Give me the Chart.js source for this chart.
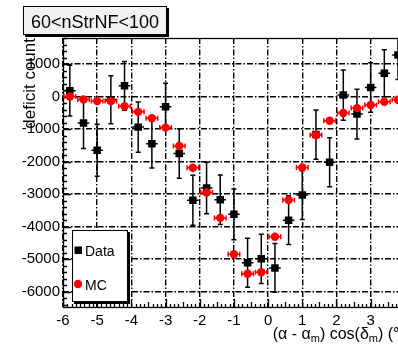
<!DOCTYPE html>
<html>
<head>
<meta charset="utf-8">
<script src="https://cdn.jsdelivr.net/npm/chart.js@4.4.0/dist/chart.umd.min.js"></script>
<style>
  html, body { margin: 0; padding: 0; background: #fff; overflow: hidden; }
  #wrap { width: 398px; height: 344px; overflow: hidden; }
  canvas { display: block; }
</style>
</head>
<body>
<div id="wrap"><canvas id="deficitChart" width="414" height="344"></canvas></div>
<script>
// Deficit vs. (alpha - alpha_m) cos(delta_m), data against MC

const binCenters = [-5.8, -5.4, -5.0, -4.6, -4.2, -3.8, -3.4, -3.0, -2.6, -2.2, -1.8, -1.4, -1.0,
                    -0.6, -0.2, 0.2, 0.6, 1.0, 1.4, 1.8, 2.2, 2.6, 3.0, 3.4, 3.8];
const dataCounts = [180, -810, -1650, -100, 330, -940, -1450, -310, -1750, -3190, -2810, -3170, -3620,
                    -5110, -4990, -5270, -3800, -3030, -1170, -2020, 45, -540, 280, 715, 1275];
const dataErrors = [780, 790, 800, 740, 750, 770, 750, 720, 760, 770, 790, 760, 780,
                    750, 760, 750, 750, 750, 760, 750, 770, 765, 760, 720, 750];
const mcCounts = [0, -90, -140, -140, -300, -470, -665, -955, -1520, -2190, -2950, -3730, -4850,
                  -5450, -5400, -4310, -3180, -2180, -1185, -745, -505, -355, -260, -160, -100];
const mcErrors = [110, 110, 110, 110, 110, 110, 110, 110, 110, 110, 120, 120, 120,
                  120, 120, 120, 120, 120, 110, 110, 110, 110, 110, 110, 110];
const binHalfWidth = 0.17;

const xTickValues = [-6, -5, -4, -3, -2, -1, 0, 1, 2, 3, 4];
const yTickValues = [-6000, -5000, -4000, -3000, -2000, -1000, 0, 1000];
const panelTitle = '60<nStrNF<100';

const FONT = "'Liberation Sans', Arial, sans-serif";
Chart.defaults.font.family = FONT;
Chart.defaults.color = '#000';

const toPoints = (ys) => binCenters.map((x, i) => ({ x: x, y: ys[i] }));

// ROOT-like decorations: frame, inward ticks, error bars, title box, legend
const rootStyle = {
    id: 'rootStyle',
    beforeDatasetsDraw(chart) {
        const { ctx, chartArea: a, scales: { x, y } } = chart;
        ctx.save();
        ctx.strokeStyle = '#000';
        ctx.lineWidth = 1.3;
        ctx.strokeRect(a.left + 0.5, a.top + 0.5, a.right - a.left, a.bottom - a.top);

        ctx.beginPath();
        // y axis: majors every 1000, minors every 200
        for (let v = -6400; v <= 1800; v += 200) {
            const py = Math.round(y.getPixelForValue(v)) + 0.5;
            if (py < a.top || py > a.bottom) continue;
            const len = v % 1000 === 0 ? 8 : 4;
            ctx.moveTo(a.left, py);
            ctx.lineTo(a.left + len, py);
        }
        // x axis: majors every 1, half-steps, minors every 0.125
        for (let k = -48; k <= 32; k++) {
            const v = k / 8;
            const px = Math.round(x.getPixelForValue(v)) + 0.5;
            if (px < a.left || px > a.right) continue;
            const len = k % 8 === 0 ? 8 : (k % 4 === 0 ? 5 : 3);
            ctx.moveTo(px, a.bottom);
            ctx.lineTo(px, a.bottom - len);
        }
        ctx.stroke();
        ctx.restore();
    },
    beforeDatasetDraw(chart, args) {
        const ds = chart.data.datasets[args.index];
        const { ctx, chartArea: a, scales: { x, y } } = chart;
        ctx.save();
        ctx.beginPath();
        ctx.rect(a.left, a.top, a.right - a.left, a.bottom - a.top);
        ctx.clip();
        ctx.strokeStyle = ds.borderColor;
        ctx.lineWidth = 1.5;
        ctx.beginPath();
        ds.data.forEach((p, i) => {
            const e = ds.errors[i];
            const px = x.getPixelForValue(p.x);
            const py = y.getPixelForValue(p.y);
            const top = y.getPixelForValue(p.y + e);
            const bot = y.getPixelForValue(p.y - e);
            const l = x.getPixelForValue(p.x - binHalfWidth);
            const r = x.getPixelForValue(p.x + binHalfWidth);
            ctx.moveTo(px, top); ctx.lineTo(px, bot);
            ctx.moveTo(l, py); ctx.lineTo(r, py);
            if (ds.capY) {
                ctx.moveTo(px - 2.5, top); ctx.lineTo(px + 2.5, top);
                ctx.moveTo(px - 2.5, bot); ctx.lineTo(px + 2.5, bot);
            } else {
                ctx.moveTo(l, py - 2.5); ctx.lineTo(l, py + 2.5);
                ctx.moveTo(r, py - 2.5); ctx.lineTo(r, py + 2.5);
            }
        });
        ctx.stroke();
        ctx.restore();
    },
    afterDraw(chart) {
        const { ctx, chartArea: a } = chart;
        ctx.save();

        // pave with the selection cut
        ctx.fillStyle = '#000';
        ctx.fillRect(25, 8, 144, 29);
        ctx.fillStyle = '#f2f2f2';
        ctx.fillRect(23, 6, 144, 29);
        ctx.strokeStyle = '#000';
        ctx.lineWidth = 1;
        ctx.strokeRect(23.5, 6.5, 143, 28);
        ctx.fillStyle = '#000';
        ctx.font = '18px ' + FONT;
        ctx.textAlign = 'center';
        ctx.textBaseline = 'alphabetic';
        ctx.fillText(panelTitle, 95, 27.5);

        // legend
        ctx.fillStyle = '#000';
        ctx.fillRect(74, 232, 56, 72);
        ctx.fillStyle = '#fff';
        ctx.fillRect(72, 230, 56, 72);
        ctx.strokeRect(72.5, 230.5, 55, 71);
        const items = chart.data.datasets;
        const rows = [250, 284];
        items.forEach((ds, i) => {
            const cy = rows[i];
            ctx.fillStyle = ds.backgroundColor;
            if (ds.pointStyle === 'rect') {
                ctx.fillRect(74.5, cy - 3.5, 7.5, 7.5);
            } else {
                ctx.beginPath();
                ctx.arc(78, cy, 4.2, 0, Math.PI * 2);
                ctx.fill();
            }
            ctx.fillStyle = '#000';
            ctx.font = '14px ' + FONT;
            ctx.textAlign = 'left';
            ctx.fillText(ds.label, 85, cy + 6);
        });

        // y axis title
        ctx.save();
        ctx.translate(35, a.top);
        ctx.rotate(-Math.PI / 2);
        ctx.font = '17px ' + FONT;
        ctx.textAlign = 'right';
        ctx.fillText('deficit count', 0, 0);
        ctx.restore();

        // x axis title, right-aligned to the axis end, with subscripts
        const parts = [['(\u03b1 - \u03b1', 0], ['m', 1], [') cos(\u03b4', 0], ['m', 1], [') (\u00b0)', 0]];
        const fontFor = (sub) => (sub ? '11px ' : '16px ') + FONT;
        let total = 0;
        parts.forEach(([t, sub]) => { ctx.font = fontFor(sub); total += ctx.measureText(t).width; });
        let cx = a.right - total;
        ctx.textAlign = 'left';
        parts.forEach(([t, sub]) => {
            ctx.font = fontFor(sub);
            ctx.fillText(t, cx, sub ? 342 : 339);
            cx += ctx.measureText(t).width;
        });
        ctx.restore();
    }
};

const ctx = document.getElementById('deficitChart').getContext('2d');
new Chart(ctx, {
    type: 'scatter',
    data: {
        datasets: [
            {
                label: 'Data',
                data: toPoints(dataCounts),
                errors: dataErrors,
                capY: true,
                pointStyle: 'rect',
                pointRadius: 5.3,
                pointHoverRadius: 5.3,
                backgroundColor: '#000',
                borderColor: '#000',
                borderWidth: 0,
                order: 2
            },
            {
                label: 'MC',
                data: toPoints(mcCounts),
                errors: mcErrors,
                capY: false,
                pointStyle: 'circle',
                pointRadius: 4.2,
                pointHoverRadius: 4.2,
                backgroundColor: '#ff0000',
                borderColor: '#ff0000',
                borderWidth: 0,
                order: 1
            }
        ]
    },
    options: {
        responsive: false,
        devicePixelRatio: 1,
        animation: false,
        events: [],
        layout: { padding: { left: 0, top: 38, right: 7, bottom: 0 } },
        plugins: { legend: { display: false }, tooltip: { enabled: false } },
        scales: {
            x: {
                type: 'linear',
                min: -6,
                max: 4,
                afterFit: (s) => { s.height = 37; },
                afterBuildTicks: (s) => { s.ticks = xTickValues.map(v => ({ value: v })); },
                grid: { color: '#000', lineWidth: 1.4, drawTicks: false },
                border: { display: false, dash: [6, 2, 1.5, 2] },
                ticks: { font: { size: 15 }, padding: 5, maxRotation: 0, callback: (v) => String(v) }
            },
            y: {
                type: 'linear',
                min: -6470,
                max: 1800,
                afterFit: (s) => { s.width = 63; },
                afterBuildTicks: (s) => { s.ticks = yTickValues.map(v => ({ value: v })); },
                grid: { color: '#000', lineWidth: 1.4, drawTicks: false },
                border: { display: false, dash: [6, 2, 1.5, 2] },
                ticks: { font: { size: 15 }, padding: 3, callback: (v) => String(v) }
            }
        }
    },
    plugins: [rootStyle]
});
</script>
</body>
</html>
